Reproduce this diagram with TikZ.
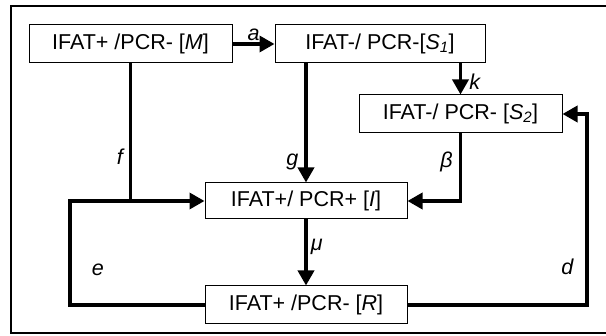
\documentclass[tikz,border=0pt]{standalone}
\usepackage{fontspec}
\setmainfont{Liberation Sans}
\usepackage{tikz}
\usetikzlibrary{arrows.meta}

\begin{document}
\begin{tikzpicture}[x=1pt, y=-1pt, font=\fontsize{21.5}{24}\selectfont,
  box/.style={draw, line width=1pt, minimum height=38, inner sep=0pt},
  flow/.style={line width=3.5pt, -{Triangle[length=15pt,width=16pt]}},
  link/.style={line width=3.5pt},
  lbl/.style={font=\fontsize{21.5}{24}\selectfont\itshape, inner sep=6pt}]
  \useasboundingbox (0,0) rectangle (606,336);
  \draw[line width=1.5pt] (11,6) rectangle (620,333);

  \node[box, minimum width=203] (m)  at (130.5,44) {IFAT+ /PCR- [\textit{M}]};
  \node[box, minimum width=210] (s1) at (380,44)   {IFAT-/ PCR-[\textit{S\textsubscript{1}}]};
  \node[box, minimum width=203] (s2) at (460.5,114) {IFAT-/ PCR- [\textit{S\textsubscript{2}}]};
  \node[box, minimum width=202, minimum height=36] (i) at (306,201) {IFAT+/ PCR+ [\textit{I}]};
  \node[box, minimum width=202] (r)  at (306,305)  {IFAT+ /PCR- [\textit{R}]};

  \coordinate (fe) at (130.5,201);
  \coordinate (el) at (70,305);
  \coordinate (dr) at (587,305);

  \path[flow]
  (m) edge node [lbl, above, inner sep=2pt] {a} (s1)
  (s1.south -| i.north) edge node [lbl, left, pos=0.83] {g} (i.north)
  (s1.south -| s2.north) edge node [lbl, right, inner sep=7pt, pos=0.6] {k} (s2.north)
  (i) edge node [lbl, right, inner sep=3pt, pos=0.42] {μ} (r)
  ;
  \draw[link] (m.south) -- node [lbl, left, pos=0.68] {f} (fe);
  \draw[flow] (r.west) -- (el) -- node [lbl, right=14pt, pos=0.34] {e} (el |- fe) -- (i.west);
  \draw[flow] (s2.south) |- node [lbl, left, pos=0.21] {β} (i.east);
  \draw[flow] (r.east) -- (dr) -- node [lbl, left=6pt, pos=0.2] {d} (dr |- s2.east) -- (s2.east);
\end{tikzpicture}
\end{document}
